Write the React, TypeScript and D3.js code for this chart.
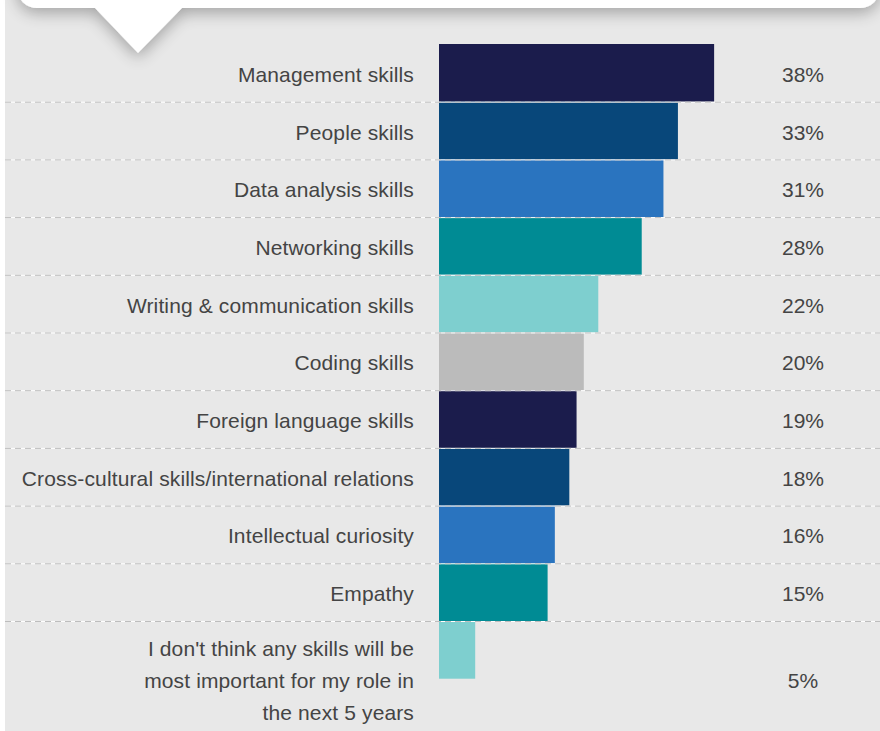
import * as d3 from 'd3';

const skills = [
  'Management skills',
  'People skills',
  'Data analysis skills',
  'Networking skills',
  'Writing & communication skills',
  'Coding skills',
  'Foreign language skills',
  'Cross-cultural skills/international relations',
  'Intellectual curiosity',
  'Empathy',
  "I don't think any skills will be|most important for my role in|the next 5 years",
];
const shares = [38, 33, 31, 28, 22, 20, 19, 18, 16, 15, 5];
const palette = [
  '#1b1c4c',
  '#08477a',
  '#2a74bf',
  '#008b94',
  '#7ecfcf',
  '#bbbbbb',
  '#1b1c4c',
  '#08477a',
  '#2a74bf',
  '#008b94',
  '#7ecfcf',
];

const width = 880;
const height = 731;
const fontFamily = '"Liberation Sans", Arial, Helvetica, sans-serif';

const App = () => {
  const y = d3
    .scaleBand<string>()
    .domain(skills)
    .range([44, 44 + 57.7 * skills.length])
    .padding(0);

  const x = d3.scaleLinear().domain([0, 100]).range([439, 439 + 724]);

  const bw = y.bandwidth();

  // speech bubble at the top with the pointer
  const bubble =
    'M17,-60 V-12 A20,20 0 0 0 37,8 H95 L138,53 L182,8 H860 A20,20 0 0 0 880,-12 V-60 Z';

  return (
    <svg
      width={width}
      height={height}
      style={{ position: 'absolute', left: 0, top: 0 }}
    >
      <defs>
        <filter id='shadow' x='-10%' y='-50%' width='120%' height='250%'>
          <feGaussianBlur in='SourceAlpha' stdDeviation='8' />
          <feOffset dx='0' dy='5' result='blur' />
          <feComponentTransfer>
            <feFuncA type='linear' slope='0.3' />
          </feComponentTransfer>
          <feMerge>
            <feMergeNode />
            <feMergeNode in='SourceGraphic' />
          </feMerge>
        </filter>
      </defs>
      <rect x={0} y={0} width={width} height={height} fill='#fff' />
      <rect x={5} y={0} width={width - 5} height={height} fill='#e8e8e8' />

      {skills.map((s, i) => {
        const top = y(s) as number;
        return (
          <rect
            key={s}
            x={x(0)}
            y={top}
            width={x(shares[i]) - x(0)}
            height={bw}
            fill={palette[i]}
          />
        );
      })}

      {skills.slice(0, -1).map((s) => {
        const ly = (y(s) as number) + bw + 0.5;
        return (
          <g key={'l' + s}>
            <line x1={5} x2={width} y1={ly} y2={ly} stroke='#ffffff' />
            <line
              x1={5}
              x2={width}
              y1={ly}
              y2={ly}
              stroke='#bdbdbd'
              strokeDasharray='6,4'
            />
          </g>
        );
      })}

      <g fontFamily={fontFamily} fontSize={21} fill='#444444'>
        {skills.map((s, i) => {
          const cy = (y(s) as number) + bw / 2;
          const lines = s.split('|');
          const multi = lines.length > 1;
          return (
            <g key={'t' + s}>
              {lines.map((ln, k) => (
                <text
                  key={k}
                  x={414}
                  y={multi ? cy - 1.5 + k * 32 + 8 : cy + 9}
                  textAnchor='end'
                  letterSpacing={0.13}
                >
                  {ln}
                </text>
              ))}
              <text
                x={803}
                y={multi ? cy + 30.5 + 8 : cy + 9}
                textAnchor='middle'
              >
                {shares[i] + '%'}
              </text>
            </g>
          );
        })}
      </g>

      <path d={bubble} fill='#ffffff' filter='url(#shadow)' />
    </svg>
  );
};

export default App;
